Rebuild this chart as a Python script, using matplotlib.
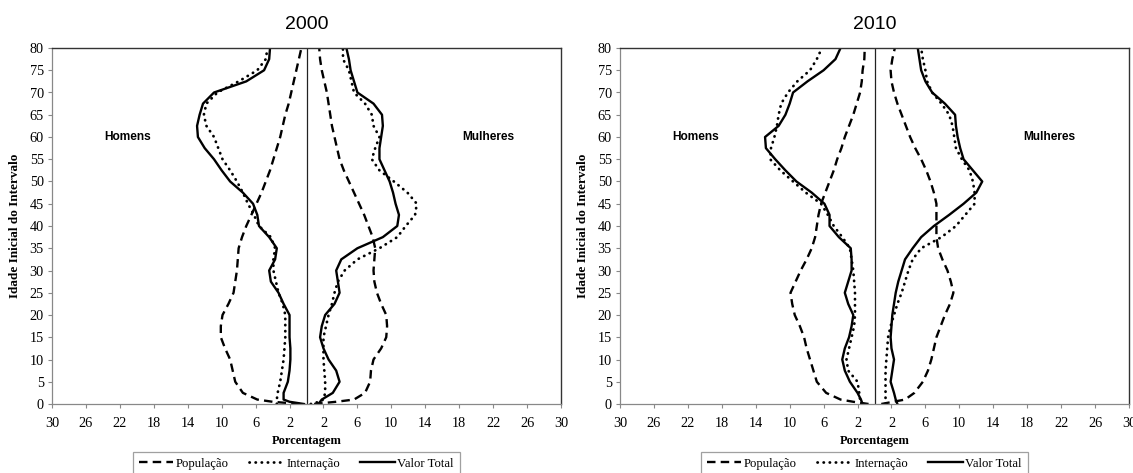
import matplotlib
matplotlib.use("Agg")
import matplotlib.pyplot as plt
from matplotlib.lines import Line2D
from matplotlib import font_manager
import numpy as np

# ---------------- data ----------------
ages = [0, 0.5, 1, 2.5, 5, 7.5, 10, 12.5, 15, 17.5, 20, 22.5, 25, 27.5, 30, 32.5, 35,
        37.5, 40, 42.5, 45, 47.5, 50, 52.5, 55, 57.5, 60, 62.5, 65, 67.5, 70, 72.5,
        75, 77.5, 80]

# 2000 - Homens (percent, drawn on the left side)
men_pop_2000 = [0.8, 4.0, 5.8, 7.5, 8.4, 8.7, 9.0, 9.6, 10.1, 10.1, 9.9, 9.2, 8.6, 8.4,
                8.2, 8.1, 8.0, 7.6, 7.1, 6.5, 5.9, 5.3, 4.8, 4.3, 3.9, 3.5, 3.1, 2.8,
                2.5, 2.1, 1.8, 1.5, 1.2, 0.9, 0.6]
men_int_2000 = [3.5, 3.5, 3.5, 3.4, 3.1, 2.9, 2.7, 2.6, 2.5, 2.5, 2.5, 2.8, 3.3, 3.6,
                3.9, 3.9, 3.7, 4.2, 5.6, 6.2, 6.9, 7.5, 8.2, 9.0, 9.9, 10.4, 10.9,
                11.8, 12.1, 11.8, 10.5, 8.0, 5.8, 4.8, 4.6]
men_tot_2000 = [0.3, 2.0, 2.7, 2.7, 2.2, 2.0, 1.9, 1.9, 2.0, 2.0, 2.0, 2.7, 3.3, 4.2,
                4.4, 3.7, 3.5, 4.4, 5.6, 5.8, 6.3, 7.5, 9.0, 10.0, 10.9, 12.0, 12.8,
                12.9, 12.6, 12.2, 10.9, 7.1, 5.0, 4.4, 4.3]
# 2000 - Mulheres
wom_pop_2000 = [0.9, 3.5, 5.6, 6.9, 7.5, 7.6, 7.9, 8.8, 9.4, 9.5, 9.4, 8.8, 8.3, 8.0,
                7.9, 8.0, 8.1, 7.8, 7.3, 6.8, 6.2, 5.6, 5.0, 4.4, 3.9, 3.6, 3.3, 3.0,
                2.8, 2.6, 2.4, 2.1, 1.8, 1.6, 1.5]
wom_int_2000 = [0.5, 1.5, 2.0, 2.2, 2.2, 2.1, 2.0, 2.0, 2.0, 2.3, 2.6, 3.0, 3.3, 3.7,
                4.5, 6.0, 8.6, 10.7, 11.7, 12.8, 13.0, 11.9, 10.3, 8.6, 7.7, 8.1, 8.6,
                7.9, 7.7, 6.9, 5.6, 5.3, 5.0, 4.3, 4.3]
wom_tot_2000 = [1.4, 1.6, 1.8, 3.1, 3.9, 3.5, 2.6, 2.0, 1.6, 1.8, 2.2, 3.3, 3.9, 3.7,
                3.5, 4.1, 6.0, 9.0, 10.7, 10.9, 10.5, 10.2, 9.8, 9.2, 8.6, 8.6, 8.8,
                9.0, 8.9, 7.9, 6.0, 5.6, 5.2, 5.0, 4.7]

# 2010 - Homens
men_pop_2010 = [0.7, 2.5, 4.0, 5.7, 6.8, 7.2, 7.6, 8.0, 8.3, 8.8, 9.4, 9.7, 9.9, 9.3,
                8.7, 8.0, 7.4, 7.0, 6.8, 6.6, 6.3, 5.8, 5.3, 4.8, 4.4, 3.9, 3.5, 3.0,
                2.5, 2.1, 1.7, 1.5, 1.4, 1.2, 1.15]
men_int_2010 = [1.4, 1.5, 1.7, 1.8, 2.0, 3.1, 3.3, 3.0, 2.7, 2.4, 2.3, 2.3, 2.3, 2.4,
                2.5, 2.7, 2.9, 3.8, 4.8, 5.5, 6.3, 8.1, 9.6, 11.1, 12.3, 12.2, 11.8,
                11.5, 11.3, 11.0, 10.2, 9.1, 7.6, 6.8, 6.2]
men_tot_2010 = [1.5, 1.5, 1.6, 2.0, 2.9, 3.5, 3.8, 3.5, 3.0, 2.7, 2.5, 3.1, 3.5, 3.1,
                2.7, 2.7, 2.8, 4.2, 5.3, 5.3, 5.9, 7.4, 9.2, 10.5, 11.7, 12.8, 12.9,
                11.3, 10.5, 10.0, 9.6, 7.9, 6.0, 4.6, 4.0]
# 2010 - Mulheres
wom_pop_2010 = [0.8, 2.2, 3.6, 4.7, 5.7, 6.3, 6.7, 7.0, 7.3, 7.8, 8.3, 8.9, 9.3, 9.0,
                8.6, 8.0, 7.5, 7.3, 7.3, 7.3, 7.3, 7.0, 6.6, 6.1, 5.5, 4.8, 4.2, 3.7,
                3.2, 2.7, 2.3, 2.0, 1.9, 2.1, 2.4]
wom_int_2010 = [1.3, 1.3, 1.3, 1.3, 1.3, 1.3, 1.4, 1.5, 1.6, 1.9, 2.3, 2.7, 3.2, 3.6,
                4.0, 4.5, 5.5, 7.9, 9.6, 10.7, 11.8, 11.8, 11.6, 11.2, 10.3, 9.6, 9.4,
                9.2, 8.8, 7.9, 6.8, 6.2, 6.0, 5.7, 5.5]
wom_tot_2010 = [2.7, 2.6, 2.5, 2.3, 1.9, 2.1, 2.3, 2.0, 1.9, 2.0, 2.1, 2.3, 2.5, 2.8,
                3.2, 3.6, 4.5, 5.5, 7.0, 8.8, 10.5, 12.0, 12.7, 11.6, 10.5, 10.1, 9.8,
                9.6, 9.5, 8.3, 6.8, 6.0, 5.5, 5.3, 5.1]

titles = ["2000", "2010"]
series_names = ["População", "Internação", "Valor Total"]
xtick_vals = [-30, -26, -22, -18, -14, -10, -6, -2, 2, 6, 10, 14, 18, 22, 26, 30]
ytick_vals = list(range(0, 81, 5))

panels = [
    (men_pop_2000, men_int_2000, men_tot_2000, wom_pop_2000, wom_int_2000, wom_tot_2000),
    (men_pop_2010, men_int_2010, men_tot_2010, wom_pop_2010, wom_int_2010, wom_tot_2010),
]

# ---------------- styles ----------------
serif = "Liberation Serif"
sans = "Liberation Sans"
installed = {f.name for f in font_manager.fontManager.ttflist}
narrow = "Liberation Sans Narrow" if "Liberation Sans Narrow" in installed else sans
label_size = 10 if narrow != sans else 8.6

styles = [
    dict(linestyle=(0, (3.6, 2.2)), linewidth=1.7, color="black"),
    dict(linestyle=(0, (0.1, 2.1)), linewidth=2.0, color="black",
         dash_capstyle="round"),
    dict(linestyle="-", linewidth=1.7, color="black"),
]

W, H = 1133, 473
fig = plt.figure(figsize=(W / 100, H / 100), dpi=100)
fig.patch.set_facecolor("white")

axes_px = [(52, 48, 561, 404), (620, 48, 1129, 404)]

for i, (ax_px, data) in enumerate(zip(axes_px, panels)):
    x0, y0, x1, y1 = ax_px
    ax = fig.add_axes([x0 / W, 1 - y1 / H, (x1 - x0) / W, (y1 - y0) / H])
    mp, mi, mt, wp, wi, wt = data
    for vals, st in zip((mp, mi, mt), styles):
        ax.plot(-np.asarray(vals), ages, **st)
    for vals, st in zip((wp, wi, wt), styles):
        ax.plot(np.asarray(vals), ages, **st)
    ax.axvline(0, color="#222222", linewidth=0.9)

    ax.set_xlim(-30, 30)
    ax.set_ylim(0, 80)
    ax.set_xticks(xtick_vals)
    ax.set_xticklabels([str(abs(v)) for v in xtick_vals], fontfamily=serif, fontsize=10.3)
    ax.set_yticks(ytick_vals)
    ax.set_yticklabels([str(v) for v in ytick_vals], fontfamily=serif, fontsize=10.3)
    ax.tick_params(axis="both", direction="out", length=3, width=0.8, color="#888888",
                   pad=3)
    ax.tick_params(axis="x", pad=6)
    for side in ("left", "bottom"):
        ax.spines[side].set_color("#888888")
        ax.spines[side].set_linewidth(0.9)
    for side in ("top", "right"):
        ax.spines[side].set_color("#333333")
        ax.spines[side].set_linewidth(1.0)

    ax.set_xlabel("Porcentagem", fontfamily=serif, fontweight="bold", fontsize=9,
                  labelpad=4)
    ax.set_ylabel("Idade Inicial do Intervalo", fontfamily=serif, fontweight="bold",
                  fontsize=9.5, labelpad=6)
    ax.set_title(titles[i], fontfamily=sans, fontsize=14, pad=14)

    ax.text(-21.1, 60, "Homens", fontfamily=narrow, fontweight="bold",
            fontsize=label_size, ha="center", va="center")
    ax.text(21.4 if i == 0 else 20.6, 60, "Mulheres", fontfamily=narrow,
            fontweight="bold", fontsize=label_size, ha="center", va="center")

    handles = [Line2D([], [], **st) for st in styles]
    leg = ax.legend(handles, series_names, loc="upper center",
                    bbox_to_anchor=(0.48, -0.135), borderaxespad=0, ncol=3,
                    frameon=True, fancybox=False, edgecolor="#888888",
                    handlelength=2.7, handletextpad=0.2, columnspacing=1.6,
                    borderpad=0.45, prop=dict(family=serif, size=9.2))
    leg.get_frame().set_linewidth(0.9)

fig.savefig("out.png", dpi=100, facecolor="white")
